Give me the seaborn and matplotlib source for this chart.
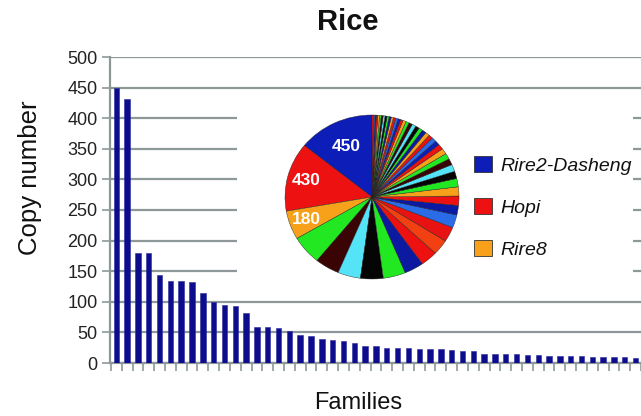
import numpy as np
import pandas as pd
import matplotlib
matplotlib.use("Agg")
import matplotlib.pyplot as plt
import seaborn as sns
from matplotlib.patches import Patch

# ---- data ----
copy_numbers = [450, 431, 180, 180, 144, 134, 134, 132, 114, 100,
                95, 93, 81, 59, 59, 57, 52, 46, 44, 39,
                37, 36, 33, 28, 28, 25, 25, 25, 23, 23,
                23, 21, 19, 19, 15, 15, 14, 14, 13, 13,
                12, 12, 11, 11, 10, 10, 9, 9, 8, 8]
families = [f"F{i+1}" for i in range(len(copy_numbers))]
legend_names = ["Rire2-Dasheng", "Hopi", "Rire8"]
pie_labels = ["450", "430", "180"]
y_ticks = [0, 50, 100, 150, 200, 250, 300, 350, 400, 450, 500]

df = pd.DataFrame({"family": families, "copies": copy_numbers})

sns.set_style("white")
plt.rcParams['font.family'] = ['Liberation Sans', 'DejaVu Sans']

W, H = 641, 416
fig = plt.figure(figsize=(W / 100, H / 100), dpi=100)
fig.patch.set_facecolor("white")

def px_axes(x0, y0, x1, y1, **kw):
    return fig.add_axes([x0 / W, 1 - y1 / H, (x1 - x0) / W, (y1 - y0) / H], **kw)

grid_c = "#8e9898"
ax = px_axes(110, 57, 641, 363)
sns.barplot(data=df, x="family", y="copies", color="#0c0c8c", width=0.5,
            saturation=1, ax=ax, zorder=3, edgecolor="#2a2aa0", linewidth=0.4)
ax.set_ylim(0, 500)
ax.set_xlim(-0.58, 39.46)
ax.set_yticks(y_ticks)
ax.set_yticklabels([str(v) for v in y_ticks], fontsize=13, color="#222222")
ax.set_xticks(np.arange(len(copy_numbers)) - 0.5)
ax.set_xticklabels([])
ax.tick_params(axis="both", direction="out", length=6, width=1.2, color=grid_c,
               pad=3, bottom=True, left=True)
ax.yaxis.grid(True, color=grid_c, linewidth=1.6, zorder=0)
ax.xaxis.grid(False)
ax.set_axisbelow(True)
for s in ["top", "right"]:
    ax.spines[s].set_visible(False)
for s in ["left", "bottom"]:
    ax.spines[s].set_color(grid_c)
    ax.spines[s].set_linewidth(1.6)
ax.set_xlabel("Families", fontsize=17, color="#111111")
ax.xaxis.set_label_coords((358 - 110) / 531, (363 - 403) / 306)
ax.xaxis.label.set_va("center")
ax.set_ylabel("Copy number", fontsize=18.5, color="#111111")
ax.yaxis.set_label_coords((30 - 110) / 531, (363 - 178) / 306)
ax.yaxis.label.set_va("center")
fig.text(348 / W, 1 - 22 / H, "Rice", fontsize=21, fontweight="bold",
         ha="center", va="center", color="#111111")

# inset white panel
inset = px_axes(237, 100, 633, 292)
inset.set_facecolor("white")
inset.set_xticks([]); inset.set_yticks([])
for s in inset.spines.values():
    s.set_visible(False)

# pie (slightly elliptical like the reference)
pax = px_axes(285, 115, 459, 279)
head_colors = ["#0d1db8", "#ee1111", "#f7a11a", "#22e822", "#3b0404", "#55e3f7",
               "#050505", "#22e822", "#0b1aa0", "#ee1111", "#f24012", "#e81212",
               "#2a6be8", "#0b1aa0", "#ee1111", "#f7a11a"]
cycle = ["#22e822", "#050505", "#55e3f7", "#3b0404", "#22e822", "#f7a11a",
         "#ee1111", "#0d1db8", "#2a6be8", "#ee1111", "#f7a11a", "#0b1aa0"]
colors = [head_colors[i] if i < len(head_colors) else cycle[(i - len(head_colors)) % len(cycle)]
          for i in range(len(copy_numbers))]
wedges, _ = pax.pie(df["copies"], colors=colors, startangle=90, counterclock=True,
                    radius=1, wedgeprops=dict(edgecolor="#222222", linewidth=0.3))
pax.set_aspect("auto")
pax.set_xlim(-1, 1); pax.set_ylim(-1, 1)
for w, lab, rr in zip(wedges[:3], pie_labels, [0.68, 0.78, 0.8]):
    ang = np.deg2rad((w.theta1 + w.theta2) / 2)
    pax.text(rr * np.cos(ang), rr * np.sin(ang), lab, color="white", fontsize=12.5,
             fontweight="bold", ha="center", va="center")

# legend
handles = [Patch(facecolor=c, edgecolor="#333333", linewidth=0.6) for c in colors[:3]]
leg = fig.legend(handles, legend_names, loc="upper left",
                 bbox_to_anchor=(474 / W, 1 - 156 / H), frameon=False,
                 prop=dict(size=14, style="italic"), handlelength=0.95,
                 handleheight=0.9, handletextpad=0.4, labelspacing=1.2,
                 borderaxespad=0, borderpad=0)
for t in leg.get_texts():
    t.set_color("#111111")

fig.savefig("out.png", dpi=100, facecolor="white")
